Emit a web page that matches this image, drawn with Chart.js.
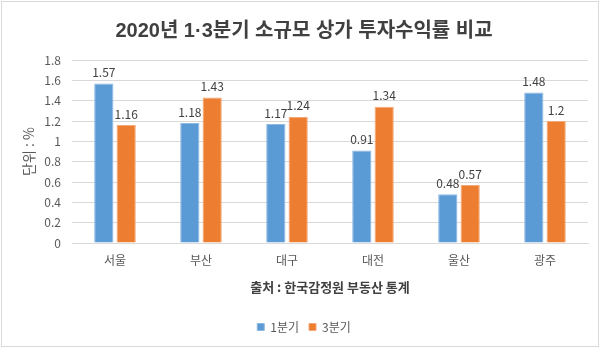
<!DOCTYPE html>
<html>
<head>
<meta charset="utf-8">
<script src="https://cdn.jsdelivr.net/npm/chart.js@4"></script>
<style>
html,body{margin:0;padding:0;background:#fff;}
#wrap{position:relative;width:602px;height:349px;}
</style>
</head>
<body>
<div id="wrap"><canvas id="c" width="602" height="349"></canvas></div>
<script>
const categories = ['서울', '부산', '대구', '대전', '울산', '광주'];
const q1 = [1.57, 1.18, 1.17, 0.91, 0.48, 1.48];
const q3 = [1.16, 1.43, 1.24, 1.34, 0.57, 1.2];
const seriesNames = ['1분기', '3분기'];
const yTicks = [0, 0.2, 0.4, 0.6, 0.8, 1, 1.2, 1.4, 1.6, 1.8];

const FONT = "'Noto Sans CJK KR', 'Noto Sans', sans-serif";
const TFONT = "'Liberation Sans', 'Noto Sans CJK KR', sans-serif";
const TXT = '#595959';

const valueLabels = {
  id: 'valueLabels',
  afterDatasetsDraw(chart) {
    const ctx = chart.ctx;
    ctx.save();
    ctx.font = '12px ' + FONT;
    ctx.fillStyle = '#404040';
    ctx.textAlign = 'center';
    ctx.textBaseline = 'bottom';
    chart.data.datasets.forEach((ds, i) => {
      chart.getDatasetMeta(i).data.forEach((bar, j) => {
        ctx.fillText(String(ds.data[j]), bar.x, bar.y - 5);
      });
    });
    ctx.restore();
  }
};
const frame = {
  id: 'frame',
  afterDraw(chart) {
    const ctx = chart.ctx;
    ctx.save();
    ctx.strokeStyle = '#D9D9D9';
    ctx.lineWidth = 1;
    ctx.strokeRect(1.5, 1.5, 597, 345);
    ctx.restore();
  }
};

new Chart(document.getElementById('c'), {
  type: 'bar',
  data: {
    labels: categories,
    datasets: [
      { label: seriesNames[0], data: q1, backgroundColor: '#5B9BD5', borderColor: '#8DB9E4', borderWidth: 1 },
      { label: seriesNames[1], data: q3, backgroundColor: '#ED7D31', borderColor: '#F4A878', borderWidth: 1 }
    ]
  },
  options: {
    responsive: false,
    animation: false,
    devicePixelRatio: 1,
    categoryPercentage: 0.52,
    barPercentage: 0.86,
    layout: { padding: { left: 20, right: 14, top: 6, bottom: 6 } },
    plugins: {
      title: {
        display: true,
        text: '2020년 1·3분기 소규모 상가 투자수익률 비교',
        color: '#404040',
        font: { family: TFONT, size: 20, weight: 'bold' },
        padding: { top: 13, bottom: 17 }
      },
      legend: {
        position: 'bottom',
        labels: {
          color: TXT,
          font: { family: FONT, size: 12 },
          boxWidth: 7, boxHeight: 7,
          padding: 10
        }
      },
      tooltip: { enabled: false }
    },
    scales: {
      x: {
        grid: { display: false },
        border: { display: true, color: '#D9D9D9' },
        ticks: { color: TXT, font: { family: FONT, size: 12 }, padding: 2 },
        title: {
          display: true,
          text: '출처 : 한국감정원 부동산 통계',
          color: '#404040',
          font: { family: FONT, size: 13, weight: 'bold' },
          padding: { top: 10, bottom: 16 }
        }
      },
      y: {
        min: 0, max: 1.8,
        afterBuildTicks(scale) { scale.ticks = yTicks.map(v => ({ value: v })); },
        grid: { color: '#D9D9D9', drawTicks: false },
        border: { display: false },
        ticks: {
          color: TXT, font: { family: FONT, size: 12 }, padding: 11,
          callback: (v) => String(yTicks.find(t => Math.abs(t - v) < 1e-9) ?? v)
        },
        title: {
          display: true,
          text: '단위 : %',
          color: TXT,
          font: { family: FONT, size: 14 },
          padding: { top: 0, bottom: 8 }
        },
        afterFit(scale) { scale.width = 52; }
      }
    }
  },
  plugins: [valueLabels, frame]
});
</script>
</body>
</html>
